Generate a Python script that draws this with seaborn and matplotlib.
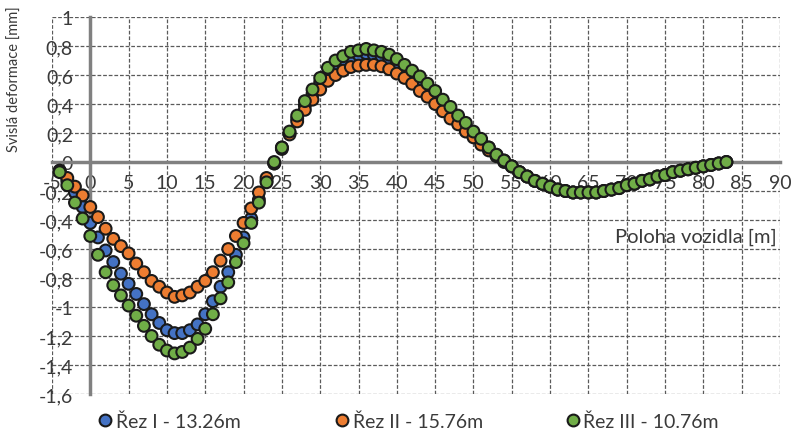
import pandas as pd
import seaborn as sns
import matplotlib
matplotlib.use('Agg')
import matplotlib.pyplot as plt
from matplotlib.ticker import FuncFormatter, MultipleLocator

# Vehicle position [m]
poloha = list(range(-4, 84))

# Common tail (x = 56..83), all three sections overlap there
spolecny_konec = [-0.07, -0.10, -0.13, -0.15, -0.17, -0.19, -0.20, -0.21, -0.21, -0.21,
                  -0.21, -0.20, -0.19, -0.18, -0.16, -0.15, -0.13, -0.12, -0.10, -0.09,
                  -0.07, -0.06, -0.05, -0.04, -0.03, -0.02, -0.01, 0.00]

# Rez I - 13.26m (x = -4..55)
rez_1 = [-0.06, -0.13, -0.21, -0.31, -0.42, -0.52, -0.61, -0.69, -0.77, -0.84,
         -0.91, -0.98, -1.05, -1.11, -1.16, -1.18, -1.18, -1.16, -1.12, -1.05,
         -0.96, -0.86, -0.76, -0.64, -0.52, -0.39, -0.26, -0.13, -0.01, 0.10,
         0.20, 0.30, 0.39, 0.47, 0.55, 0.61, 0.66, 0.70, 0.72, 0.74,
         0.75, 0.74, 0.73, 0.71, 0.68, 0.64, 0.60, 0.56, 0.51, 0.46,
         0.41, 0.36, 0.30, 0.25, 0.20, 0.15, 0.10, 0.05, 0.01, -0.03] + spolecny_konec

# Rez II - 15.76m
rez_2 = [-0.06, -0.11, -0.17, -0.23, -0.31, -0.38, -0.46, -0.53, -0.58, -0.63,
         -0.70, -0.76, -0.82, -0.86, -0.90, -0.93, -0.92, -0.90, -0.86, -0.82,
         -0.76, -0.68, -0.60, -0.51, -0.42, -0.32, -0.21, -0.11, -0.01, 0.09,
         0.19, 0.28, 0.36, 0.43, 0.50, 0.56, 0.60, 0.63, 0.655, 0.665,
         0.67, 0.67, 0.66, 0.64, 0.61, 0.58, 0.54, 0.49, 0.45, 0.40,
         0.35, 0.30, 0.26, 0.21, 0.17, 0.12, 0.08, 0.04, 0.00, -0.03] + spolecny_konec

# Rez III - 10.76m
rez_3 = [-0.07, -0.16, -0.28, -0.39, -0.51, -0.64, -0.76, -0.85, -0.92, -0.99,
         -1.06, -1.13, -1.20, -1.26, -1.30, -1.32, -1.31, -1.28, -1.22, -1.15,
         -1.05, -0.94, -0.83, -0.69, -0.56, -0.42, -0.28, -0.14, 0.00, 0.10,
         0.21, 0.32, 0.42, 0.50, 0.58, 0.65, 0.70, 0.73, 0.76, 0.77,
         0.78, 0.77, 0.76, 0.74, 0.71, 0.67, 0.63, 0.59, 0.54, 0.49,
         0.43, 0.38, 0.32, 0.27, 0.21, 0.16, 0.10, 0.05, 0.01, -0.03] + spolecny_konec

nazvy = ['Řez I - 13.26m', 'Řez II - 15.76m', 'Řez III - 10.76m']
barvy = ['#4472c4', '#ed7d31', '#70ad47']

df = pd.DataFrame({
    'Poloha': poloha * 3,
    'Deformace': rez_1 + rez_2 + rez_3,
    'Rez': [nazvy[0]] * len(poloha) + [nazvy[1]] * len(poloha) + [nazvy[2]] * len(poloha),
})

sns.set_theme(style='white')
plt.rcParams['font.family'] = ['Lato', 'DejaVu Sans']

fig = plt.figure(figsize=(7.91, 4.31), dpi=100)
ax = fig.add_axes([0.0657, 0.0835, 0.9204, 0.8747])

sns.scatterplot(data=df, x='Poloha', y='Deformace', hue='Rez', hue_order=nazvy,
                palette=barvy, s=72, edgecolor='#1a1a1a', linewidth=1.5,
                ax=ax, zorder=3, clip_on=False)

ax.set_xlim(-5, 90)
ax.set_ylim(-1.6, 1)
ax.xaxis.set_major_locator(MultipleLocator(5))
ax.yaxis.set_major_locator(MultipleLocator(0.2))
ax.yaxis.set_major_formatter(FuncFormatter(lambda v, p: f'{round(v, 1):g}'.replace('.', ',')))
ax.xaxis.set_major_formatter(FuncFormatter(lambda v, p: f'{v:g}'))

ax.grid(True, color='#5a5a5a', linestyle=(0, (3, 1.5)), linewidth=0.9)
ax.set_axisbelow(True)

# axes cross at zero like in Excel
ax.spines['left'].set_position(('data', 0))
ax.spines['bottom'].set_position(('data', 0))
for s in ['left', 'bottom']:
    ax.spines[s].set_color('#808080')
    ax.spines[s].set_linewidth(2.5)
    ax.spines[s].set_zorder(2)
ax.spines['top'].set_visible(False)
ax.spines['right'].set_visible(False)

ax.tick_params(axis='both', direction='inout', length=7, width=2, color='#808080',
               labelsize=14, labelcolor='#3a3a3a')
ax.tick_params(axis='x', pad=5)
ax.tick_params(axis='y', pad=9)
ax.set_xlabel('')
ax.set_ylabel('')

ax.text(89.6, -0.51, 'Poloha vozidla [m]', ha='right', va='center', fontsize=14.5, color='#3a3a3a')
fig.text(0.019, 1 - 79 / 431, 'Svislá deformace [mm]', rotation=90, ha='center', va='center',
         fontsize=10.5, color='#3a3a3a')

# Legend entries placed one by one, spread like the Excel legend
handles, labels = ax.get_legend_handles_labels()
ax.get_legend().remove()
leg_x = [0.1264, 0.426, 0.718]
for h, l, lx in zip(handles, labels, leg_x):
    leg = fig.legend([h], [l], loc='center left', bbox_to_anchor=(lx, 0.021),
                     frameon=False, fontsize=14, handletextpad=0.3,
                     handlelength=0.5, borderaxespad=0, borderpad=0)
    for t in leg.get_texts():
        t.set_color('#3a3a3a')

fig.savefig('out.png', dpi=100)
